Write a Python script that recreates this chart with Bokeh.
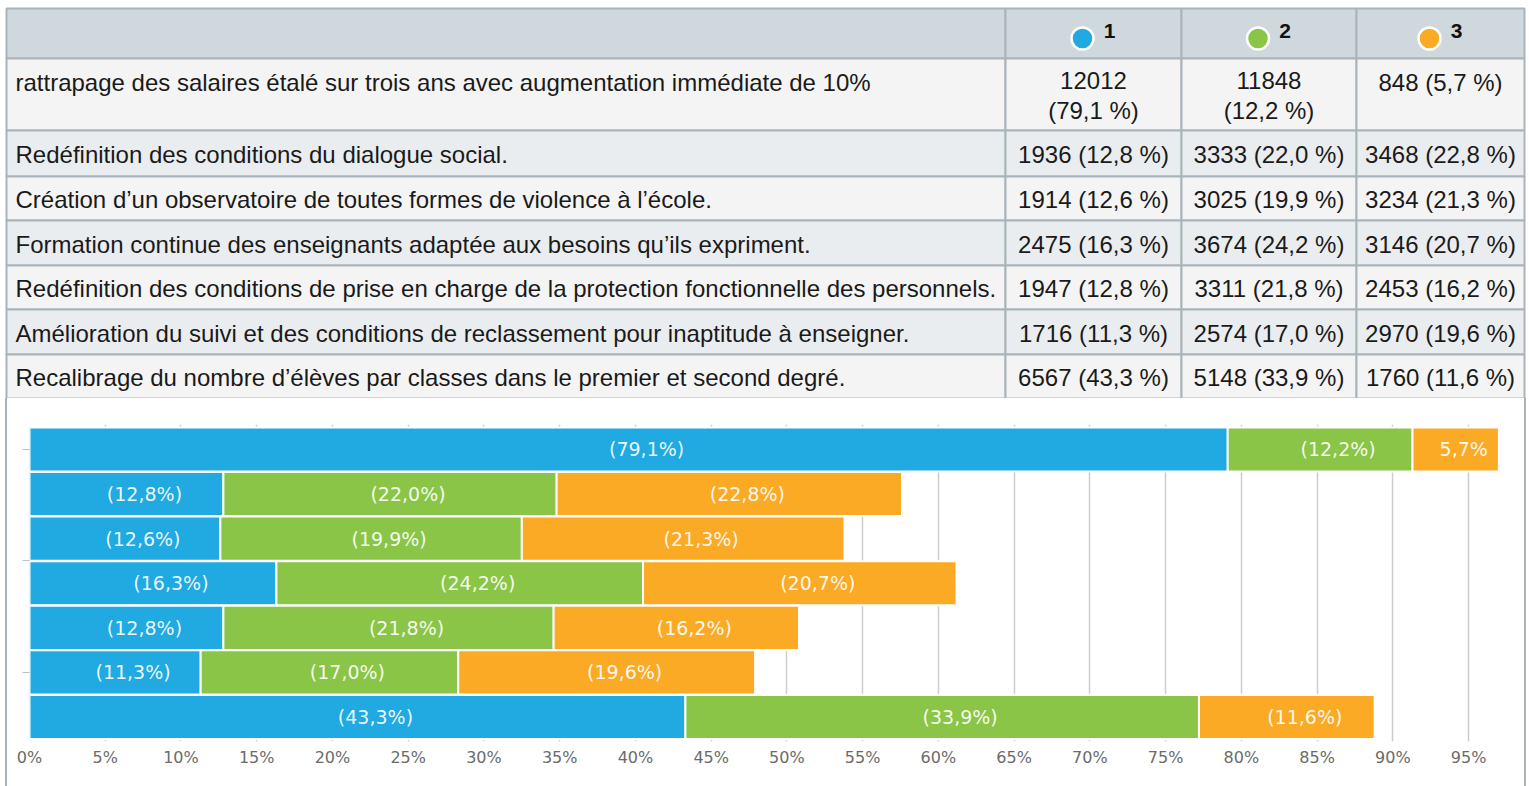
from bokeh.plotting import figure
from bokeh.layouts import column, row
from bokeh.models import Range1d, FixedTicker, PrintfTickFormatter, Spacer, ColumnDataSource
from bokeh.core.properties import value
from bokeh.embed import file_html
from bokeh.resources import INLINE

# ---------------- data ----------------
questions = [
    "rattrapage des salaires étalé sur trois ans avec augmentation immédiate de 10%",
    "Redéfinition des conditions du dialogue social.",
    "Création d’un observatoire de toutes formes de violence à l’école.",
    "Formation continue des enseignants adaptée aux besoins qu’ils expriment.",
    "Redéfinition des conditions de prise en charge de la protection fonctionnelle des personnels.",
    "Amélioration du suivi et des conditions de reclassement pour inaptitude à enseigner.",
    "Recalibrage du nombre d’élèves par classes dans le premier et second degré.",
]
series_names = ["1", "2", "3"]
counts_1 = [12012, 1936, 1914, 2475, 1947, 1716, 6567]
counts_2 = [11848, 3333, 3025, 3674, 3311, 2574, 5148]
counts_3 = [848, 3468, 3234, 3146, 2453, 2970, 1760]
pct_1 = [79.1, 12.8, 12.6, 16.3, 12.8, 11.3, 43.3]
pct_2 = [12.2, 22.0, 19.9, 24.2, 21.8, 17.0, 33.9]
pct_3 = [5.7, 22.8, 21.3, 20.7, 16.2, 19.6, 11.6]
x_ticks = [0, 5, 10, 15, 20, 25, 30, 35, 40, 45, 50, 55, 60, 65, 70, 75, 80, 85, 90, 95]
y_ticks = [0, 2.5, 5]

colors = ["#20aae1", "#8bc548", "#fbaa26"]
counts = [counts_1, counts_2, counts_3]
pcts = [pct_1, pct_2, pct_3]

def fr(p):
    return f"{p:.1f}".replace(".", ",")

# ---------------- layout constants ----------------
W = 1526
TH = 398
CH = 388
col_edges = [6, 1005, 1181, 1356, 1524]
row_edges = [8, 58, 130, 176, 220, 265, 309, 354, 398]
BORDER = "#a9b4ba"
HEADER_BG = "#cfd8dc"
ROW_BG = ["#f4f4f4", "#eaedef"]
TFONT = value("Liberation Sans")
TSIZE = "24px"

# ---------------- table figure ----------------
tf = figure(width=W, height=TH, x_range=Range1d(0, W), y_range=Range1d(TH, 0),
            output_backend="svg", toolbar_location=None, min_border=0,
            outline_line_color=None, background_fill_color="white",
            border_fill_color="white")
tf.axis.visible = False
tf.grid.visible = False

L, R, T, B, F = [], [], [], [], []
for r in range(len(row_edges) - 1):
    for c in range(len(col_edges) - 1):
        L.append(col_edges[c]); R.append(col_edges[c + 1])
        T.append(row_edges[r]); B.append(row_edges[r + 1])
        F.append(HEADER_BG if r == 0 else ROW_BG[(r - 1) % 2])
tf.quad(left=L, right=R, top=T, bottom=B, fill_color=F, line_color=BORDER, line_width=2)

# header markers + names
col_centers = [(col_edges[c] + col_edges[c + 1]) / 2 for c in range(1, 4)]
tf.scatter(x=[cx - 11 for cx in col_centers], y=[38] * 3, size=22, fill_color=colors,
           line_color="white", line_width=2.5)
tf.text(x=[cx + 16 for cx in col_centers], y=[30] * 3, text=series_names,
        text_font=TFONT, text_font_size="21px", text_font_style="bold",
        text_align="center", text_baseline="middle", text_color="#111111")

# question labels
q_y = []
for i in range(len(questions)):
    top, bot = row_edges[i + 1], row_edges[i + 2]
    q_y.append(top + 24 if i == 0 else (top + bot) / 2 + 1)
tf.text(x=[15] * len(questions), y=q_y, text=questions, text_font=TFONT,
        text_font_size=TSIZE, text_align="left", text_baseline="middle",
        text_color="#1a1a1a")

# value cells
cx_l, cy_l, ct_l = [], [], []
for c in range(3):
    for i in range(len(questions)):
        cnt = counts[c][i]
        p = pcts[c][i]
        top, bot = row_edges[i + 1], row_edges[i + 2]
        if len(str(cnt)) >= 5:
            txt = f"{cnt}\n({fr(p)} %)"
            y = top + 24 + 13
        else:
            txt = f"{cnt} ({fr(p)} %)"
            y = top + 24 if i == 0 else (top + bot) / 2 + 1
        cx_l.append(col_centers[c]); cy_l.append(y); ct_l.append(txt)
tf.text(x=cx_l, y=cy_l, text=ct_l, text_font=TFONT, text_font_size=TSIZE,
        text_align="center", text_baseline="middle", text_color="#1a1a1a",
        text_line_height=1.08)

# ---------------- chart figure ----------------
CW = 1517
cf = figure(width=CW, height=CH, x_range=Range1d(0, 97.9), y_range=Range1d(6.55, -0.56),
            output_backend="svg", toolbar_location=None,
            min_border_left=22, min_border_right=12, min_border_top=26, min_border_bottom=45,
            outline_line_color=None, background_fill_color="white", border_fill_color="white")

rows_idx = list(range(len(questions)))
left = [0.0] * len(questions)
lab_x, lab_y, lab_t, lab_off = [], [], [], []
for k in range(3):
    right = [left[i] + pcts[k][i] for i in rows_idx]
    src = ColumnDataSource(dict(y=rows_idx, left=left, right=right))
    cf.hbar(y="y", left="left", right="right", height=0.99, source=src,
            fill_color=colors[k], line_color="white", line_width=2)
    for i in rows_idx:
        p = pcts[k][i]
        lab_x.append((left[i] + right[i]) / 2)
        lab_y.append(i)
        if p < 7:
            lab_t.append(f"{fr(p)}%")
            lab_off.append(8)
        else:
            lab_t.append(f"({fr(p)}%)")
            lab_off.append(18)
    left = right

cf.text(x=lab_x, y=lab_y, text=lab_t, x_offset=lab_off, text_align="center",
        text_baseline="middle", text_font=value("DejaVu Sans"), text_font_size="19px",
        text_color="white", text_alpha=0.92)

cf.xaxis.ticker = FixedTicker(ticks=x_ticks)
cf.xaxis.formatter = PrintfTickFormatter(format="%d%%")
cf.xaxis.axis_line_color = None
cf.xaxis.major_tick_line_color = None
cf.xaxis.minor_tick_line_color = None
cf.xaxis.major_tick_out = 0
cf.xaxis.major_tick_in = 0
cf.xaxis.major_label_standoff = 6
cf.xaxis.major_label_text_font = "DejaVu Sans"
cf.xaxis.major_label_text_font_size = "16px"
cf.xaxis.major_label_text_color = "#6b6b6b"

cf.yaxis.ticker = FixedTicker(ticks=y_ticks)
cf.yaxis.axis_line_color = None
cf.yaxis.minor_tick_line_color = None
cf.yaxis.major_tick_out = 7
cf.yaxis.major_tick_in = 0
cf.yaxis.major_tick_line_color = "#b7c2c8"
cf.yaxis.major_label_text_color = None
cf.yaxis.major_label_text_font_size = "1px"
cf.yaxis.major_label_standoff = 0

cf.xgrid.ticker = FixedTicker(ticks=x_ticks)
cf.xgrid.grid_line_color = "#cccccc"
cf.xgrid.grid_line_width = 1.5
cf.ygrid.grid_line_color = None

pad_l = Spacer(width=5, height=CH)
side_l = Spacer(width=2, height=CH, styles={"background-color": BORDER})
side_r = Spacer(width=2, height=CH, styles={"background-color": BORDER})

layout = column(tf, row(pad_l, side_l, cf, side_r))

open("out.html", "w").write(file_html(layout, INLINE))
